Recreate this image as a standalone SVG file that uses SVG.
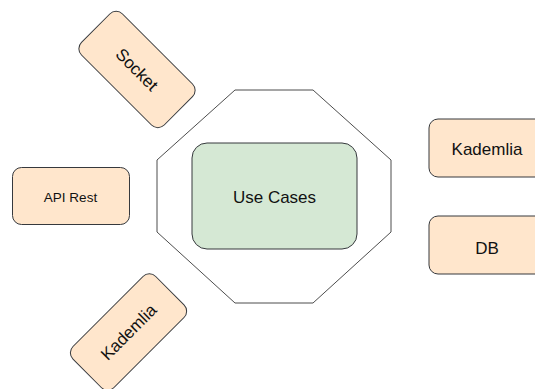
<svg xmlns="http://www.w3.org/2000/svg" width="535" height="389" viewBox="0 0 535 389">
  <style>
    .box { fill: #ffe6cc; stroke: #36393d; stroke-width: 1; }
    .core { fill: #d5e8d4; stroke: #36393d; stroke-width: 1; }
    .ring { fill: #ffffff; stroke: #4d4d4d; stroke-width: 1; }
    .lbl { font-family: "Liberation Sans", Arial, Helvetica, sans-serif; font-size: 17px; fill: #111111; text-anchor: middle; }
    .small { font-size: 13.5px; }
  </style>
  <rect width="535" height="389" fill="#ffffff"/>

  <!-- outer hexagonal-architecture boundary -->
  <g id="boundary">
    <polygon class="ring" points="235,90 313,90 391,160 391,232 313,303 235,303 157,232 157,160"/>
  </g>

  <g id="use-cases">
    <rect class="core" x="192" y="143" width="165" height="106" rx="15" ry="15"/>
    <text class="lbl" x="274.5" y="203">Use Cases</text>
  </g>

  <g id="socket" transform="translate(137,69.5) rotate(45)">
    <rect class="box" x="-58.5" y="-29" width="117" height="58" rx="9" ry="9"/>
    <text class="lbl" x="0" y="6">Socket</text>
  </g>

  <g id="api-rest">
    <rect class="box" x="12.5" y="167.5" width="117" height="57" rx="9" ry="9"/>
    <text class="lbl small" x="70.5" y="202">API Rest</text>
  </g>

  <g id="kademlia-left" transform="translate(128.5,332) rotate(-45)">
    <rect class="box" x="-58.5" y="-29" width="117" height="58" rx="9" ry="9"/>
    <text class="lbl" x="0" y="6">Kademlia</text>
  </g>

  <g id="kademlia-right">
    <rect class="box" x="429" y="119" width="117" height="58" rx="9" ry="9"/>
    <text class="lbl" x="487" y="155">Kademlia</text>
  </g>

  <g id="db">
    <rect class="box" x="429" y="216" width="117" height="58" rx="9" ry="9"/>
    <text class="lbl" x="487" y="254">DB</text>
  </g>

  <g id="connectors"></g>
</svg>
